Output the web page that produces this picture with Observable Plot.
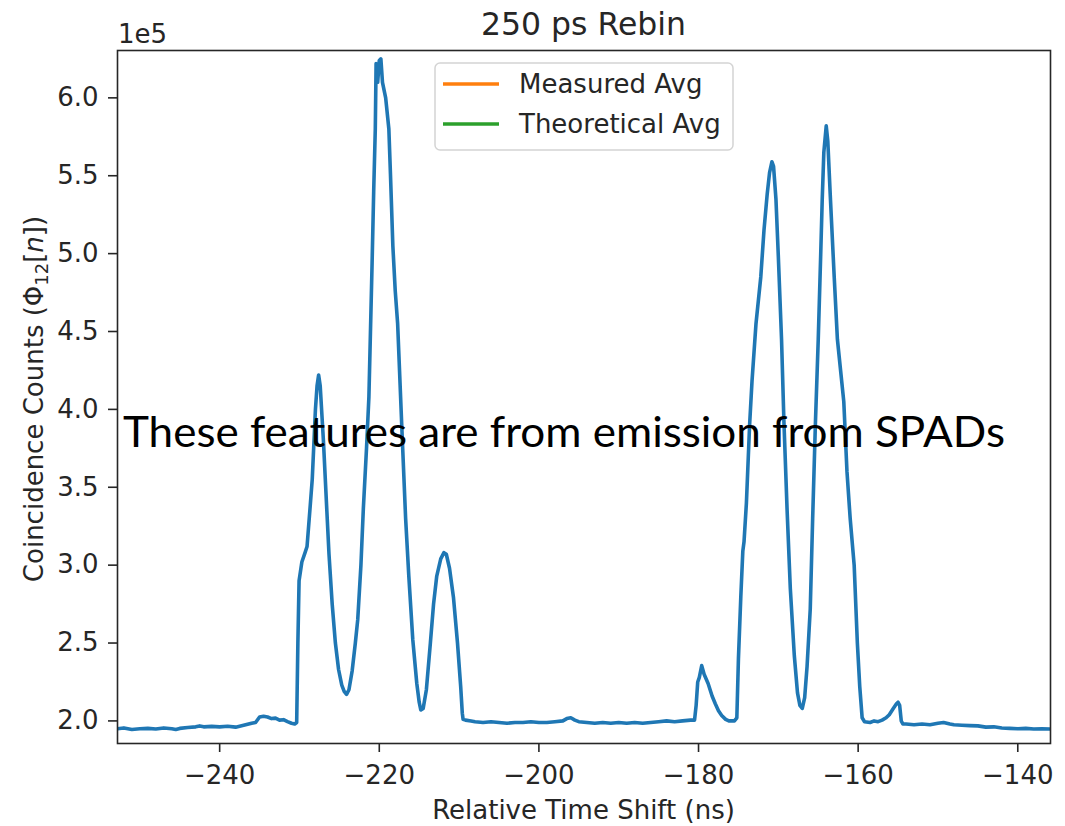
<!DOCTYPE html>
<html><head><meta charset="utf-8">
<script src="https://cdn.jsdelivr.net/npm/d3@7"></script>
<script src="https://cdn.jsdelivr.net/npm/@observablehq/plot@0.6"></script>
<style>body{margin:0;background:#fff}#chart{width:1065px;height:826px}</style>
</head><body><div id="chart"></div>
<script>
// Relative time shift (ns) and coincidence counts (units of 1e5)
const timeNs = [
-252.8,-252.0,-251.0,-250.0,-249.0,-248.0,-247.0,-246.0,-245.5,-245.0,-244.0,-243.0,-242.5,-242.0,-241.0,-240.0,-239.0,-238.0,-237.0,-236.0,-235.5,-235.0,-234.5,-234.0,-233.5,-233.0,-232.5,-232.0,-231.5,-231.0,-230.6,-230.35,
-230.2,-230.05,-229.7,-229.3,-229.05,-228.7,-228.4,-228.0,-227.8,-227.6,-227.4,-227.0,-226.6,-226.3,-225.9,-225.5,-225.1,-224.7,-224.4,-224.1,-223.8,-223.4,-223.0,-222.7,-222.3,-222.0,-221.6,-221.3,-220.9,-220.7,-220.5,-220.4,-220.2,-220.0,-219.8,-219.6,-219.2,-218.8,-218.6,-218.3,-218.0,-217.7,-217.1,-216.7,-216.3,-215.8,-215.3,-215.0,-214.8,-214.5,-214.1,-213.6,-213.2,-212.8,-212.3,-211.9,-211.6,-211.2,-210.7,-210.2,-209.8,-209.6,-209.5,
-209.2,-208.5,-208.0,-207.0,-206.0,-205.0,-204.0,-203.0,-202.0,-201.0,-200.0,-199.0,-198.0,-197.0,-196.5,-196.0,-195.5,-195.0,-194.0,-193.0,-192.0,-191.0,-190.0,-189.0,-188.0,-187.0,-186.0,-185.0,-184.0,-183.0,-182.0,-181.0,-180.5,
-180.3,-180.1,-179.9,-179.6,-179.3,-178.8,-178.3,-177.9,-177.5,-177.1,-176.6,-176.2,-175.5,-175.2,
-175.0,-174.7,-174.45,-174.3,-174.0,-173.6,-173.3,-172.8,-172.2,-171.8,-171.4,-171.1,-170.8,-170.6,-170.3,-170.0,-169.6,-169.3,-168.9,-168.5,-168.0,-167.6,-167.3,-167.0,-166.7,-166.4,-166.0,-165.7,-165.35,-165.0,-164.7,-164.5,-164.3,-164.0,-163.8,-163.5,-163.0,-162.6,-162.2,-161.8,-161.4,-161.0,-160.5,-160.1,-159.8,-159.5,
-159.2,-158.5,-158.0,-157.5,-157.0,-156.5,-156.1,-155.6,-155.2,-155.0,-154.8,-154.6,-154.4,-154.0,-153.0,-152.0,-151.0,-150.0,-149.3,-148.5,-148.0,-147.0,-146.0,-145.0,-144.0,-143.0,-142.0,-141.0,-140.0,-139.0,-138.0,-137.0,-135.9
];
const counts1e5 = [
1.950,1.955,1.945,1.950,1.952,1.948,1.955,1.950,1.945,1.952,1.958,1.962,1.968,1.962,1.965,1.962,1.966,1.960,1.972,1.985,1.990,2.025,2.030,2.025,2.015,2.018,2.005,2.008,1.995,1.985,1.980,1.990,
2.50,2.90,3.02,3.08,3.12,3.35,3.55,4.00,4.15,4.22,4.15,3.80,3.38,3.07,2.75,2.50,2.33,2.23,2.19,2.17,2.20,2.32,2.50,2.65,3.00,3.36,3.75,4.08,4.94,5.40,5.80,6.22,6.10,6.24,6.25,6.10,6.00,5.80,5.51,5.05,4.76,4.55,3.79,3.30,2.93,2.52,2.24,2.12,2.07,2.08,2.20,2.50,2.75,2.93,3.04,3.08,3.07,2.98,2.79,2.50,2.22,2.05,2.01,
2.005,2.000,1.995,1.990,1.995,1.990,1.985,1.990,1.990,1.995,1.990,1.990,1.995,2.000,2.015,2.020,2.005,1.995,1.990,1.985,1.990,1.985,1.990,1.985,1.990,1.985,1.990,1.995,2.000,1.995,2.000,2.005,2.005,
2.10,2.25,2.28,2.355,2.30,2.24,2.16,2.11,2.065,2.035,2.01,2.00,2.00,2.02,
2.40,2.80,3.09,3.15,3.40,3.90,4.18,4.55,4.85,5.15,5.38,5.52,5.59,5.56,5.35,4.98,4.45,3.92,3.35,2.85,2.42,2.18,2.10,2.08,2.15,2.35,2.72,3.30,3.92,4.45,4.98,5.35,5.65,5.82,5.72,5.38,4.85,4.45,4.25,4.05,3.60,3.30,3.00,2.50,2.22,2.02,
1.995,1.990,2.000,1.995,2.005,2.020,2.040,2.080,2.110,2.120,2.100,2.000,1.980,1.980,1.975,1.980,1.975,1.985,1.990,1.980,1.975,1.972,1.970,1.968,1.960,1.962,1.955,1.952,1.950,1.952,1.948,1.950,1.948
];
const xTicks = [-240, -220, -200, -180, -160, -140];
const yTicks = [2.0, 2.5, 3.0, 3.5, 4.0, 4.5, 5.0, 5.5, 6.0];
const legendLabels = ["Measured Avg", "Theoretical Avg"];
const legendColors = ["#ff7f0e", "#2ca02c"];
const titleText = "250 ps Rebin";
const xLabel = "Relative Time Shift (ns)";
const exponentLabel = "1e5";
const annotationText = "These features are from emission from SPADs";

const data = timeNs.map((t, i) => ({t, c: counts1e5[i]}));

const W = 1065, H = 826, mL = 117, mR = 15, mT = 50, mB = 83;
const FS = 26;
const svg = Plot.plot({
  width: W, height: H,
  marginLeft: mL, marginRight: mR, marginTop: mT, marginBottom: mB,
  style: {fontFamily: "DejaVu Sans", fontSize: FS + "px", color: "#262626", background: "#fff", overflow: "visible"},
  x: {domain: [-252.8, -135.9]},
  y: {domain: [1.855, 6.304]},
  marks: [
    Plot.line(data, {x: "t", y: "c", stroke: "#1f77b4", strokeWidth: 3.6, clip: true}),
    Plot.frame({stroke: "#262626", strokeWidth: 1.6}),
    Plot.axisX({ticks: xTicks, tickSize: 9, tickPadding: 13, strokeWidth: 1.6, fontSize: FS, label: null, tickFormat: d3.format("d")}),
    Plot.axisY({ticks: yTicks, tickSize: 9, tickPadding: 10, strokeWidth: 1.6, fontSize: FS, label: null, tickFormat: d3.format(".1f")})
  ]
});
document.getElementById("chart").appendChild(svg);

const s = d3.select(svg);
const cx = (mL + (W - mR)) / 2;
s.append("text").attr("x", cx).attr("y", 35).attr("text-anchor", "middle")
  .attr("font-size", 31.5).attr("fill", "#262626").text(titleText);
s.append("text").attr("x", 118).attr("y", 43).attr("text-anchor", "start").attr("font-size", FS).attr("fill", "#262626").text(exponentLabel);
s.append("text").attr("x", cx).attr("y", 819).attr("text-anchor", "middle")
  .attr("font-size", FS).attr("fill", "#262626").text(xLabel);
const yl = s.append("text").attr("transform", "translate(43,399) rotate(-90)").attr("text-anchor", "middle")
  .attr("font-size", FS).attr("fill", "#262626");
yl.append("tspan").text("Coincidence Counts (Φ");
yl.append("tspan").attr("font-size", 18).attr("dy", 5).text("12");
yl.append("tspan").attr("dy", -5).text("[");
yl.append("tspan").attr("font-style", "italic").text("n");
yl.append("tspan").text("])");

// legend
const lg = s.append("g");
lg.append("rect").attr("x", 435).attr("y", 63).attr("width", 298).attr("height", 87).attr("rx", 5)
  .attr("fill", "#fff").attr("fill-opacity", 0.8).attr("stroke", "#d4d4d4").attr("stroke-width", 1.5);
legendLabels.forEach((lab, i) => {
  const y = 84 + i * 40;
  lg.append("line").attr("x1", 443).attr("x2", 499).attr("y1", y).attr("y2", y)
    .attr("stroke", legendColors[i]).attr("stroke-width", 3.4);
  lg.append("text").attr("x", 519).attr("y", y + 9).attr("text-anchor", "start").attr("font-size", FS).attr("fill", "#262626").text(lab);
});

// annotation
s.append("text").attr("x", 123).attr("y", 447).attr("text-anchor", "start").attr("font-family", "Lato, 'Open Sans', sans-serif")
  .attr("font-size", 43).attr("fill", "#000").attr("textLength", 882).attr("lengthAdjust", "spacingAndGlyphs")
  .text(annotationText);
</script></body></html>
